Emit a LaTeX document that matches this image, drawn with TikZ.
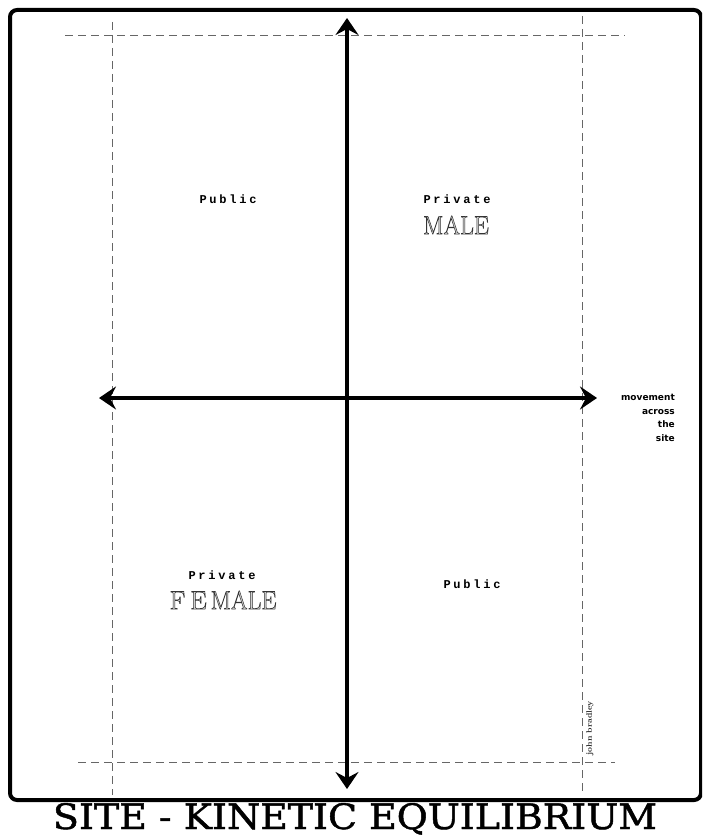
\documentclass[tikz,border=0pt]{standalone}
\usepackage{fontspec}
\usepackage{graphicx}
\usetikzlibrary{arrows.meta}
\newfontfamily\lblfont[LetterSpace=23]{Liberation Mono}
\newfontfamily\notefont{DejaVu Sans}
\newfontfamily\titlefont[FakeBold=1.3]{DejaVu Serif}
\newcommand\olt[1]{{\color{black!18}\special{pdf:literal direct 2 Tr 0.55 w 0.2 G}#1\special{pdf:literal direct 0 Tr}}}
\begin{document}
\begin{tikzpicture}[x=1pt,y=-1pt,
  guide/.style={draw=black!60, dash pattern=on 8pt off 5pt, line width=0.7pt},
  tipx/.tip={Stealth[length=17pt,width=23pt,inset=6pt]},
  axis/.style={line width=3.8pt, tipx-tipx},
  small/.style={font=\lblfont\bfseries\fontsize{12}{13}\selectfont, text=black, inner sep=0pt},
  big/.style={font=\fontsize{26}{28}\selectfont, inner sep=0pt},
  note/.style={font=\notefont\bfseries\fontsize{9}{13.5}\selectfont, align=right, anchor=north east, inner sep=0pt}]
\useasboundingbox (0,0) rectangle (702,837);
\clip (0,0) rectangle (702,837);
% frame
\draw[line width=4pt, rounded corners=7pt] (10,10) rectangle (701,800);
% guides
\coordinate (gt1) at (65,35); \coordinate (gt2) at (625,35);
\coordinate (gb1) at (78,762); \coordinate (gb2) at (615,762);
\coordinate (gl1) at (112,22); \coordinate (gl2) at (112,795);
\coordinate (gr1) at (582,16); \coordinate (gr2) at (582,795);
\draw[guide] (gt1) -- (gt2);
\draw[guide] (gb1) -- (gb2);
\draw[guide] (gl1) -- (gl2);
\draw[guide] (gr1) -- (gr2);
% axes
\coordinate (vt) at (347,18); \coordinate (vb) at (347,789);
\coordinate (hl) at (99,398); \coordinate (hr) at (597,398);
\draw[axis] (vt) -- (vb);
\draw[axis] (hl) -- (hr);
% labels
\node[small] (pub1) at (228,199) {Public};
\node[small] (priv1) at (457,199) {Private};
\node[big] (male) at (456,225) {\olt{\scalebox{0.92}[1]{MALE}}};
\node[small] (priv2) at (222,575) {Private};
\node[big] (female) at (223,600) {\olt{F\hspace{5pt}E\hspace{4pt}\scalebox{0.92}[1]{MALE}}};
\node[small] (pub2) at (472,584) {Public};
\node[note] (mv) at (675,394) {movement\\across\\the\\site};
\node[font=\bfseries\fontsize{8}{9}\selectfont, text=black!85, rotate=90, inner sep=0pt] (sig) at (590,728) {john bradley};
% title
\node[anchor=base, inner sep=0pt] (title) at (355,829) {\resizebox{604pt}{26pt}{\titlefont SITE - KINETIC EQUILIBRIUM}};
\end{tikzpicture}
\end{document}
